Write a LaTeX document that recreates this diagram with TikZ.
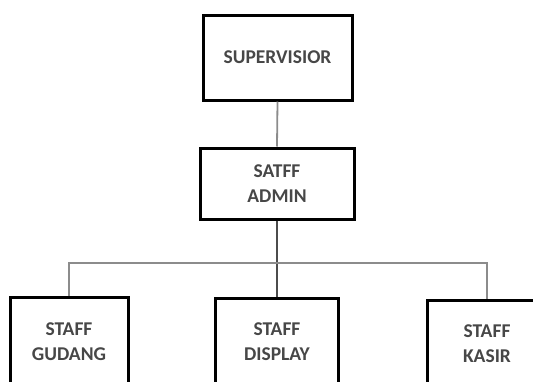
\documentclass[tikz,border=0pt]{standalone}
\usepackage{fontspec}
\setmainfont{Carlito}
\begin{document}
\begin{tikzpicture}[x=1pt,y=-1pt,
  box/.style={draw=black, line width=3pt, fill=white, align=center,
    inner sep=0pt, text=black!72, font=\fontsize{19.5}{25}\selectfont\bfseries},
  link/.style={draw=black!45, line width=1.8pt},
  linkdark/.style={draw=black!70, line width=1.4pt}]
  \useasboundingbox (0,0) rectangle (533,381);
  \clip (0,0) rectangle (533,381);
  % top of the chart
  \node[box, minimum width=149pt, minimum height=85pt] (sup) at (277.5,57.5) {SUPERVISIOR};
  \node[box, minimum width=154pt, minimum height=71pt] (adm) at (277,183.5) {SATFF\\ADMIN};
  % staff row (boxes run off the bottom edge)
  \node[box, minimum width=118pt, minimum height=89pt] (gud) at (69,341.5) {STAFF\\GUDANG};
  \node[box, minimum width=123pt, minimum height=88pt] (dis) at (277,342) {STAFF\\DISPLAY};
  \node[box, minimum width=120pt, minimum height=88pt] (kas) at (487,344) {STAFF\\KASIR};
  \coordinate (bus) at (277,263);
  % connectors
  \draw[link] (sup.south) -- (adm.north);
  \draw[linkdark] (adm.south) -- (bus) -- (dis.north);
  \draw[link] (bus) -| (gud.north);
  \draw[link] (bus) -| (kas.north);
\end{tikzpicture}
\end{document}
